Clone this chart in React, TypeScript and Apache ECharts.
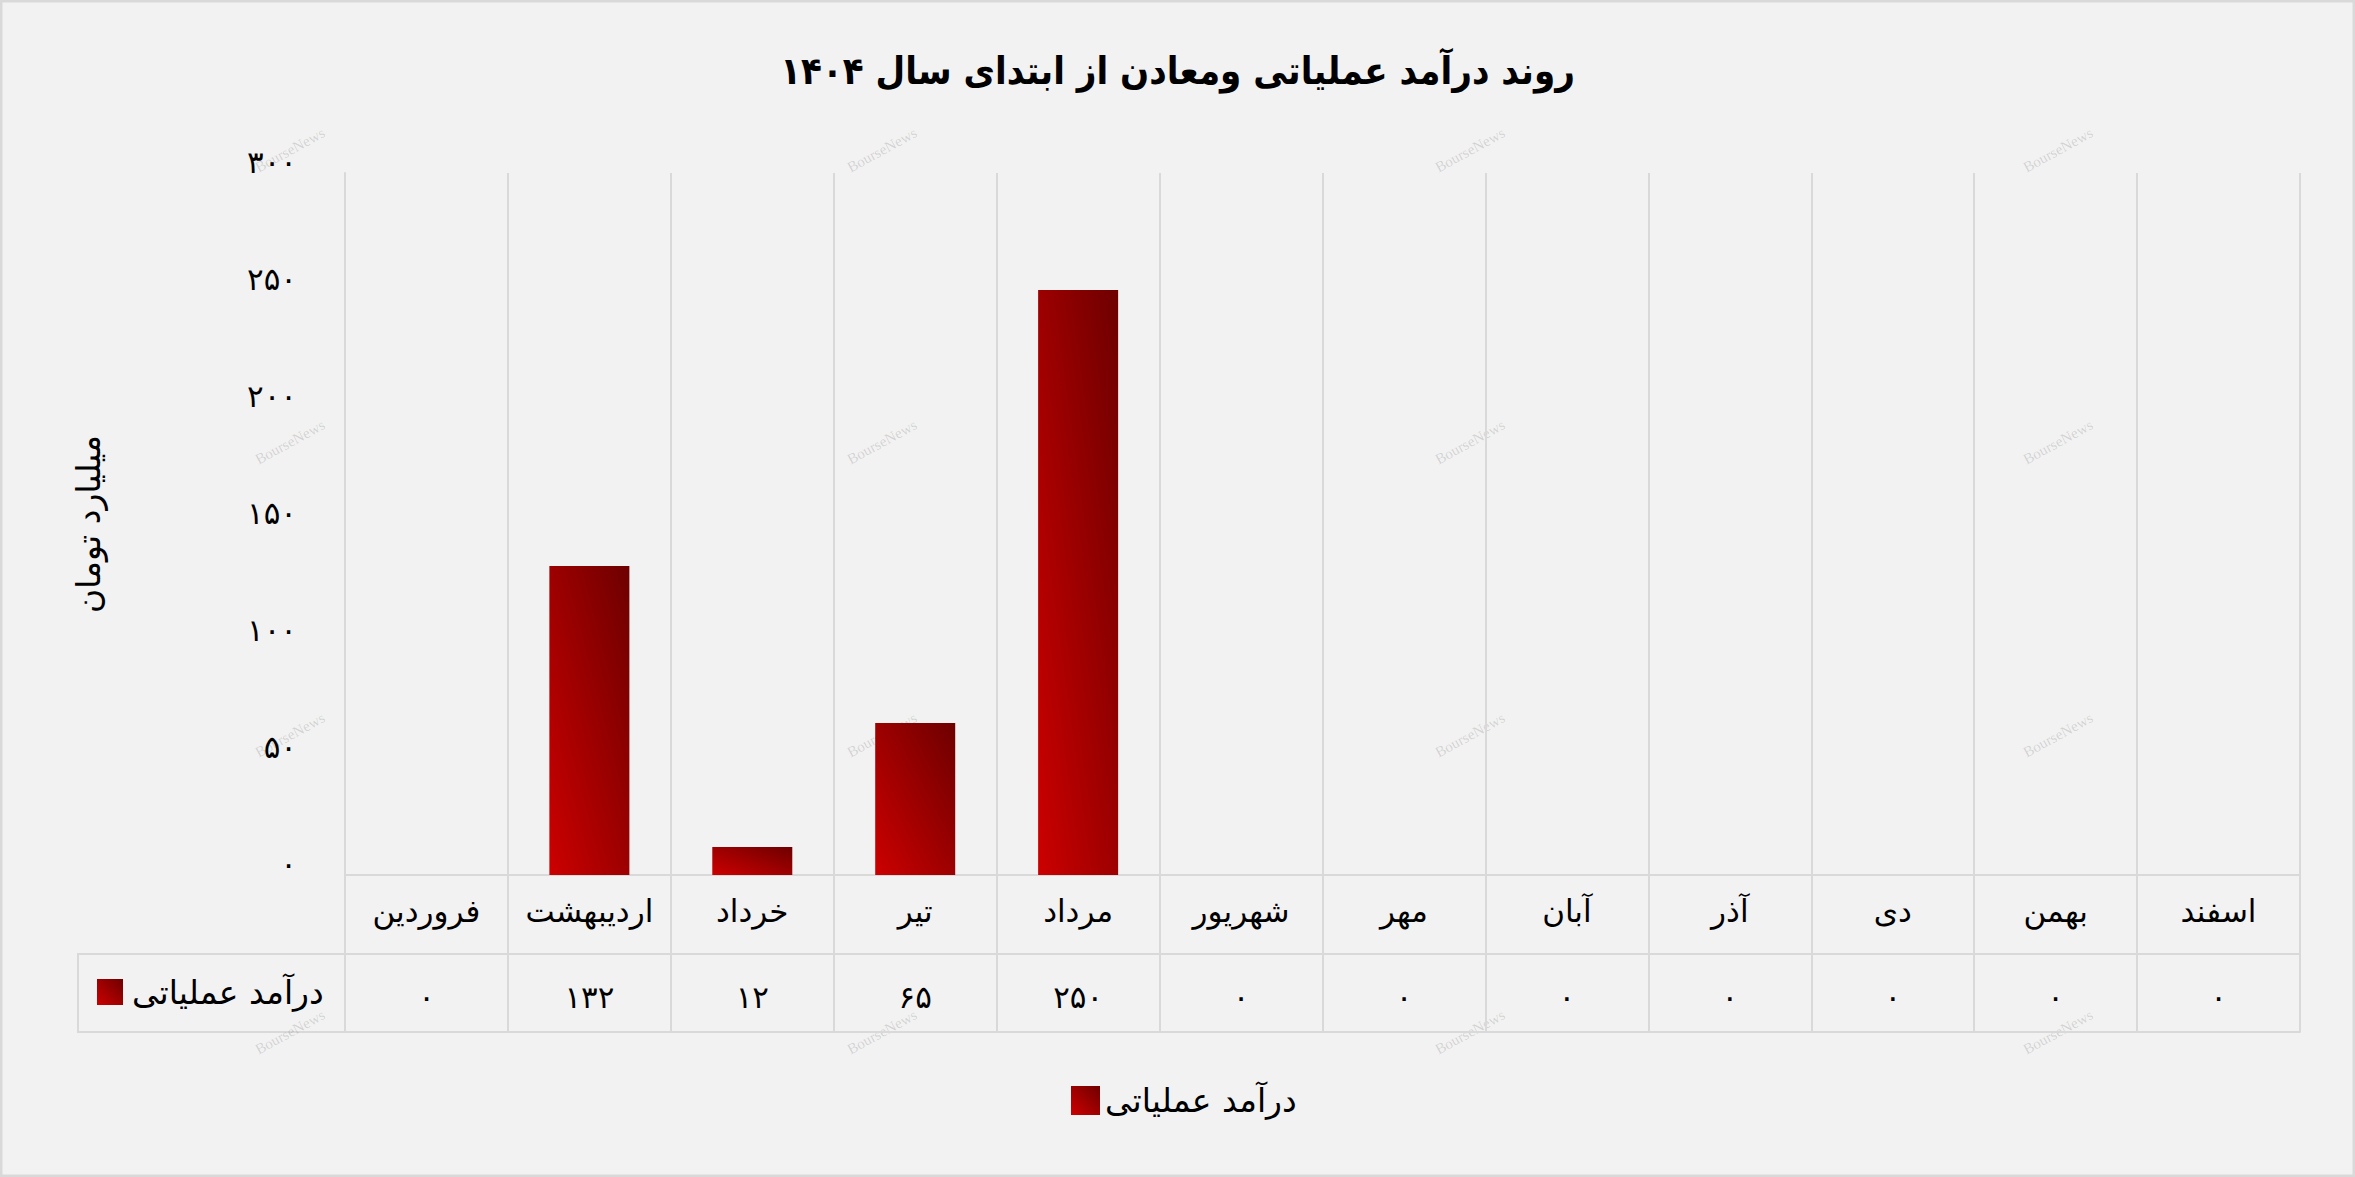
import React, { useEffect, useRef } from "react";
import * as echarts from "echarts";

const TITLE = "روند درآمد عملیاتی ومعادن از ابتدای سال ۱۴۰۴";
const SERIES_NAME = "درآمد عملیاتی";
const Y_NAME = "میلیارد تومان";
const months = ["فروردین", "اردیبهشت", "خرداد", "تیر", "مرداد", "شهریور", "مهر", "آبان", "آذر", "دی", "بهمن", "اسفند"];
const revenue = [0, 132, 12, 65, 250, 0, 0, 0, 0, 0, 0, 0];
const yTicks = { min: 0, max: 300, interval: 50 };

const W = 2355;
const H = 1177;
const FA = "DejaVu Sans";
const GRID_COLOR = "#d9d9d9";

const toFa = (v: number | string) => String(v).replace(/\d/g, (d) => "۰۱۲۳۴۵۶۷۸۹"[Number(d)]);

const barGradient = () =>
  new echarts.graphic.LinearGradient(0, 1, 1, 0, [
    { offset: 0, color: "#cc0000" },
    { offset: 1, color: "#6e0000" },
  ]);

export default function App() {
  const ref = useRef<HTMLDivElement>(null);
  useEffect(() => {
    document.body.style.margin = "0";
    if (!ref.current) return;
    const chart = echarts.init(ref.current, undefined, { renderer: "svg" });

    const plotLeft = 345;
    const plotRight = 2300;
    const plotTop = 173;
    const axisY = 875;
    const tableBottom = 1032;
    const rowMid = 954;

    const watermarks: any[] = [];
    const wx = [290, 882, 1470, 2058];
    const wy = [150, 442, 735, 1032];
    wy.forEach((y) =>
      wx.forEach((x) =>
        watermarks.push({
          type: "text",
          x,
          y,
          rotation: 0.5,
          silent: true,
          style: {
            text: "BourseNews",
            fill: "rgba(0,0,0,0.14)",
            font: "15px 'Liberation Serif'",
            align: "center",
            verticalAlign: "middle",
          },
        })
      )
    );

    chart.setOption({
      animation: false,
      backgroundColor: "#f2f2f2",
      title: {
        text: TITLE,
        left: "center",
        top: 47,
        textStyle: { fontFamily: "DejaVu Sans Condensed", fontWeight: "bold", fontSize: 38, color: "#000" },
      },
      legend: {
        data: [SERIES_NAME],
        left: 1066,
        top: 1079,
        itemWidth: 29,
        itemHeight: 29,
        itemGap: 10,
        icon: "rect",
        textStyle: { fontFamily: FA, fontSize: 33, color: "#000" },
      },
      grid: [
        { left: plotLeft, right: W - plotRight, top: plotTop, bottom: H - axisY },
        { left: plotLeft, right: W - plotRight, top: axisY, bottom: H - tableBottom },
      ],
      xAxis: [
        {
          type: "category",
          gridIndex: 0,
          data: months,
          axisTick: { show: false },
          axisLine: { show: true, lineStyle: { color: GRID_COLOR, width: 2 } },
          splitLine: { show: true, lineStyle: { color: GRID_COLOR, width: 2 } },
          axisLabel: { margin: 20, fontFamily: FA, fontSize: 31, color: "#000", interval: 0 },
        },
        {
          type: "category",
          gridIndex: 1,
          data: revenue.map((v) => toFa(v)),
          position: "bottom",
          axisTick: { show: false },
          axisLine: { show: true, lineStyle: { color: GRID_COLOR, width: 2 } },
          splitLine: { show: true, lineStyle: { color: GRID_COLOR, width: 2 } },
          axisLabel: { inside: true, margin: 20, fontFamily: FA, fontSize: 31, color: "#000", interval: 0 },
        },
      ],
      yAxis: [
        {
          type: "value",
          gridIndex: 0,
          min: yTicks.min,
          max: yTicks.max,
          interval: yTicks.interval,
          name: Y_NAME,
          nameLocation: "middle",
          nameGap: 240,
          nameRotate: 90,
          nameTextStyle: { fontFamily: FA, fontSize: 33, color: "#000" },
          axisLine: { show: true, lineStyle: { color: GRID_COLOR, width: 2 } },
          axisTick: { show: false },
          splitLine: { show: false },
          axisLabel: {
            margin: 48,
            fontFamily: FA,
            fontSize: 31,
            color: "#000",
            verticalAlign: "bottom",
            lineHeight: 22,
            formatter: (v: number) => toFa(v),
          },
        },
        {
          type: "value",
          gridIndex: 1,
          min: 0,
          max: 2,
          interval: 1,
          axisLine: { show: true, lineStyle: { color: GRID_COLOR, width: 2 } },
          axisTick: { show: false },
          axisLabel: { show: false },
          splitLine: { show: true, lineStyle: { color: GRID_COLOR, width: 2 } },
        },
      ],
      series: [
        {
          name: SERIES_NAME,
          type: "bar",
          xAxisIndex: 0,
          yAxisIndex: 0,
          data: revenue,
          barWidth: 80,
          itemStyle: { color: barGradient() },
        },
      ],
      graphic: [
        {
          type: "rect",
          silent: true,
          shape: { x: 1, y: 1, width: W - 2, height: H - 2 },
          style: { fill: "none", stroke: GRID_COLOR, lineWidth: 3 },
        },
        {
          type: "rect",
          silent: true,
          shape: { x: 78, y: rowMid, width: plotLeft - 78, height: tableBottom - rowMid },
          style: { fill: "none", stroke: GRID_COLOR, lineWidth: 2 },
        },
        {
          type: "rect",
          silent: true,
          shape: { x: 97, y: 979, width: 26, height: 26 },
          style: { fill: barGradient() },
        },
        {
          type: "text",
          silent: true,
          x: 132,
          y: 992,
          style: {
            text: SERIES_NAME,
            font: `33px '${FA}'`,
            fill: "#000",
            align: "left",
            verticalAlign: "middle",
          },
        },
        ...watermarks,
      ],
    });
    return () => chart.dispose();
  }, []);
  return <div ref={ref} style={{ width: W, height: H }} />;
}
